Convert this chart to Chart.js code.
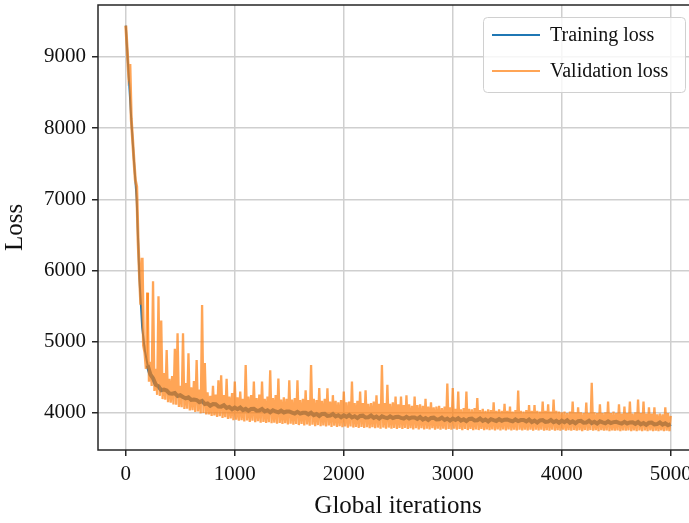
<!DOCTYPE html>
<html>
<head>
<meta charset="utf-8">
<script src="https://cdn.jsdelivr.net/npm/chart.js@4.4.1/dist/chart.umd.min.js"></script>
<style>
  html, body { margin: 0; padding: 0; background: #fff; overflow: hidden; }
  #wrap { position: absolute; left: 0; top: 0; width: 700px; height: 523px; }
</style>
</head>
<body>
<div id="wrap"><canvas id="lossChart" width="700" height="523"></canvas></div>
<script>
// series names (legend)
const seriesNames = ["Training loss", "Validation loss"];

// tick labels
const xTicks = [0, 1000, 2000, 3000, 4000, 5000];
const yTicks = [4000, 5000, 6000, 7000, 8000, 9000];

// sampling of the two curves, in global iterations
const trainStep = 25;   // training loss read every 25 iterations
const valStep = 12.5;   // validation loss read every 12.5 iterations (noisy)

// training loss, iterations 0..5000 (one row = 500 iterations)
const trainLoss = [
  9440, 8780, 8130, 7540, 7000, 5900, 5200, 4880, 4672, 4542, 4488, 4395, 4375, 4320, 4330, 4315, 4275, 4270, 4280, 4238,
  4249, 4225, 4205, 4221, 4184, 4189, 4182, 4152, 4168, 4125, 4135, 4102, 4125, 4123, 4090, 4089, 4108, 4070, 4084, 4052,
  4077, 4054, 4077, 4041, 4058, 4030, 4057, 4060, 4032, 4034, 4056, 4021, 4038, 4009, 4038, 4021, 4009, 4032, 4007, 4020,
  4022, 4005, 3992, 4016, 3991, 4003, 4004, 3981, 4004, 3969, 3986, 3958, 3986, 3988, 3960, 3963, 3985, 3951, 3968, 3940,
  3967, 3946, 3971, 3937, 3955, 3929, 3958, 3962, 3936, 3940, 3964, 3931, 3950, 3922, 3953, 3938, 3927, 3952, 3929, 3943,
  3947, 3932, 3921, 3946, 3923, 3937, 3938, 3917, 3942, 3908, 3927, 3901, 3930, 3934, 3908, 3911, 3935, 3902, 3921, 3894,
  3922, 3901, 3926, 3893, 3912, 3886, 3915, 3920, 3894, 3898, 3922, 3890, 3909, 3882, 3913, 3899, 3888, 3913, 3890, 3905,
  3909, 3894, 3883, 3909, 3886, 3900, 3902, 3882, 3907, 3873, 3892, 3867, 3896, 3900, 3874, 3879, 3903, 3870, 3889, 3863,
  3892, 3871, 3896, 3862, 3882, 3856, 3885, 3889, 3863, 3867, 3891, 3858, 3877, 3851, 3882, 3867, 3856, 3881, 3858, 3872,
  3876, 3862, 3851, 3876, 3853, 3867, 3869, 3848, 3873, 3840, 3859, 3833, 3862, 3866, 3840, 3844, 3868, 3836, 3855, 3828,
  3845
];

// validation loss, iterations 0..5000 (one row = 250 iterations)
const valLoss = [
  9440, 9110, 8780, 8900, 8130, 7840, 7540, 7270, 7180, 6430, 5950, 5520, 6180, 4950, 4850, 4620, 5690, 4440, 4720, 4380,
  5850, 4310, 4620, 4255, 5640, 4240, 5300, 4195, 4560, 4185, 4885, 4150, 4480, 4145, 4520, 4120, 4900, 4115, 5120, 4085,
  4380, 4080, 5120, 4055, 4420, 4060, 4840, 4035, 4360, 4040, 4450, 4015, 4745, 4020, 4330, 3995, 5517, 4000, 4700, 3980,
  4290, 3980, 4240, 3960, 4380, 3965, 4260, 3945, 4460, 3955, 4530, 3930, 4250, 3940, 4480, 3915, 4230, 3925, 4280, 3900,
  4440, 3905, 4220, 3890, 4300, 3900, 4200, 3880, 4675, 3895, 4230, 3875, 4250, 3890, 4440, 3870, 4210, 3885, 4260, 3865,
  4440, 3875, 4200, 3860, 4230, 3870, 4600, 3855, 4210, 3865, 4250, 3850, 4485, 3860, 4190, 3845, 4220, 3855, 4200, 3840,
  4460, 3850, 4190, 3835, 4210, 3845, 4460, 3830, 4180, 3845, 4200, 3825, 4320, 3840, 4180, 3820, 4675, 3835, 4200, 3815,
  4180, 3830, 4350, 3815, 4170, 3825, 4200, 3810, 4345, 3825, 4160, 3805, 4250, 3820, 4170, 3805, 4150, 3815, 4180, 3800,
  4300, 3810, 4150, 3795, 4160, 3810, 4440, 3795, 4140, 3805, 4170, 3790, 4300, 3805, 4140, 3790, 4320, 3800, 4130, 3785,
  4140, 3800, 4160, 3785, 4250, 3795, 4130, 3780, 4675, 3795, 4140, 3780, 4395, 3795, 4130, 3780, 4150, 3790, 4230, 3775,
  4120, 3790, 4230, 3775, 4110, 3790, 4250, 3775, 4120, 3785, 4100, 3770, 4230, 3785, 4110, 3770, 4120, 3785, 4100, 3770,
  4200, 3780, 4090, 3770, 4150, 3785, 4080, 3765, 4090, 3780, 4100, 3765, 4070, 3780, 4090, 3765, 4415, 3775, 4080, 3765,
  4350, 3780, 4060, 3765, 4300, 3775, 4050, 3760, 4070, 3775, 4300, 3760, 4060, 3775, 4050, 3760, 4070, 3770, 4210, 3760,
  4040, 3775, 4060, 3760, 4030, 3770, 4050, 3760, 4040, 3770, 4150, 3755, 4030, 3770, 4050, 3755, 4030, 3770, 4130, 3755,
  4030, 3770, 4090, 3755, 4020, 3765, 4040, 3755, 4315, 3765, 4030, 3755, 4020, 3765, 4040, 3755, 4110, 3765, 4030, 3750,
  4110, 3765, 4030, 3755, 4020, 3765, 4160, 3750, 4030, 3760, 4120, 3750, 4020, 3765, 4190, 3750, 4030, 3760, 4020, 3750,
  4010, 3765, 4020, 3750, 4000, 3760, 4020, 3750, 4160, 3760, 4010, 3750, 4080, 3760, 4010, 3745, 4000, 3760, 4145, 3750,
  4000, 3760, 4425, 3750, 4010, 3760, 4000, 3745, 4120, 3760, 4000, 3750, 4010, 3755, 4160, 3745, 4000, 3755, 4020, 3750,
  4000, 3755, 4120, 3745, 3990, 3755, 4090, 3750, 4000, 3755, 4160, 3745, 3990, 3755, 4010, 3745, 4190, 3755, 4000, 3745,
  4160, 3755, 3990, 3745, 4080, 3755, 3990, 3745, 4080, 3750, 3980, 3745, 3990, 3755, 3980, 3745, 4080, 3750, 4000, 3745,
  3960
];

const blue = "#1f77b4";
const orange = "rgba(255, 127, 14, 0.7)";
const serif = "'Liberation Serif', 'Times New Roman', serif";

// spines + boxed legend like matplotlib
const framePlugin = {
  id: "frame",
  afterDatasetsDraw(chart) {
    const { ctx, chartArea: a } = chart;
    ctx.save();
    ctx.strokeStyle = "#262626";
    ctx.lineWidth = 1.5;
    ctx.strokeRect(a.left, a.top, a.right - a.left, a.bottom - a.top);
    ctx.restore();
  },
  afterDraw(chart) {
    const { ctx, chartArea: a } = chart;
    const bx = a.right - 215, by = a.top + 12, bw = 202, bh = 75;
    ctx.save();
    ctx.beginPath();
    ctx.roundRect(bx + 0.5, by + 0.5, bw, bh, 4);
    ctx.fillStyle = "rgba(255,255,255,0.8)";
    ctx.fill();
    ctx.strokeStyle = "#d0d0d0";
    ctx.lineWidth = 1;
    ctx.stroke();

    const colors = [blue, orange];
    ctx.font = `20px ${serif}`;
    ctx.textBaseline = "middle";
    seriesNames.forEach((name, i) => {
      const y = by + 18 + i * 36;
      ctx.strokeStyle = colors[i];
      ctx.lineWidth = 2;
      ctx.beginPath();
      ctx.moveTo(bx + 9, y);
      ctx.lineTo(bx + 57, y);
      ctx.stroke();
      ctx.fillStyle = "#111";
      ctx.fillText(name, bx + 67, y + 1);
    });
    ctx.restore();
  },
};

const toPoints = (ys, step) => ys.map((y, i) => ({ x: i * step, y: y }));

// thinner training stroke on the steep start, where the line is a single trace
const steepEnd = 200;

new Chart(document.getElementById("lossChart").getContext("2d"), {
  type: "line",
  data: {
    datasets: [
      {
        label: seriesNames[0],
        data: toPoints(trainLoss, trainStep),
        borderColor: blue,
        borderWidth: 4,
        order: 2,
        segment: {
          borderWidth: (c) => (c.p0.parsed.x < steepEnd ? 2 : 4),
        },
      },
      {
        label: seriesNames[1],
        data: toPoints(valLoss, valStep),
        borderColor: orange,
        borderWidth: 2.3,
        order: 1,
        segment: {
          borderWidth: (c) => (c.p0.parsed.x < steepEnd ? 3 : 2.3),
        },
      },
    ],
  },
  options: {
    responsive: false,
    animation: false,
    devicePixelRatio: 1,
    layout: { padding: { top: 5, right: 2, left: 0, bottom: 0 } },
    elements: {
      point: { radius: 0 },
      line: { tension: 0, borderJoinStyle: "miter" },
    },
    plugins: {
      legend: { display: false },
      tooltip: { enabled: false },
    },
    scales: {
      x: {
        type: "linear",
        min: -255,
        max: 5250,
        afterBuildTicks: (scale) => {
          scale.ticks = xTicks.map((v) => ({ value: v }));
        },
        afterFit: (scale) => {
          scale.height = 73;
          scale.paddingLeft = 0;
          scale.paddingRight = 0;
        },
        ticks: {
          color: "#111",
          padding: 6,
          maxRotation: 0,
          font: { family: serif, size: 21 },
          callback: (v) => String(v),
        },
        grid: {
          color: "#cfcfcf",
          lineWidth: 1.5,
          tickColor: "#262626",
          tickLength: 6,
        },
        border: { display: false },
        title: {
          display: true,
          text: "Global iterations",
          color: "#111",
          font: { family: serif, size: 25 },
          padding: { top: 0, bottom: 2 },
        },
      },
      y: {
        min: 3480,
        max: 9730,
        afterBuildTicks: (scale) => {
          scale.ticks = yTicks.map((v) => ({ value: v }));
        },
        afterFit: (scale) => {
          scale.width = 98;
          scale.paddingTop = 0;
          scale.paddingBottom = 0;
        },
        ticks: {
          color: "#111",
          padding: 6,
          font: { family: serif, size: 21 },
          callback: (v) => String(v),
        },
        grid: {
          color: "#cfcfcf",
          lineWidth: 1.5,
          tickColor: "#262626",
          tickLength: 6,
        },
        border: { display: false },
        title: {
          display: true,
          text: "Loss",
          color: "#111",
          font: { family: serif, size: 25 },
          padding: { top: 0, bottom: 0 },
        },
      },
    },
  },
  plugins: [framePlugin],
});
</script>
</body>
</html>
